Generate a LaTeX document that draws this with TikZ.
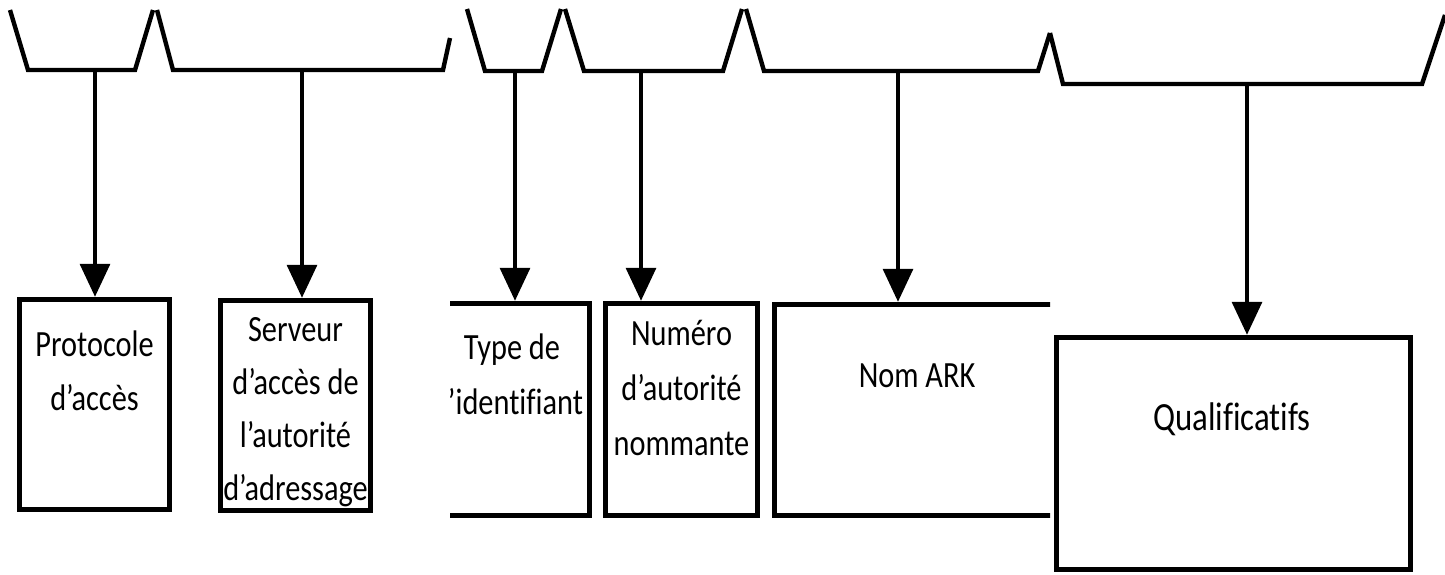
\documentclass[tikz,border=0pt]{standalone}
\usepackage{fontspec}
\setmainfont{Carlito}[FakeStretch=0.82, Ligatures=NoCommon]
\usetikzlibrary{positioning,arrows.meta}
\begin{document}
\begin{tikzpicture}[x=0.5pt, y=-0.5pt,
  field/.style = {draw, rectangle, line width=2.75pt, inner sep=0pt},
  lbl/.style = {align=center, inner sep=0pt, anchor=north, font=\fontsize{18.5pt}{27pt}\selectfont},
  brace/.style = {line width=2.2pt, line join=miter},
  link/.style = {line width=1.7pt, -{Triangle[width=15pt,length=16.5pt]}}]
\useasboundingbox (0,0) rectangle (1445,574);
% left part
\draw[brace] (10,10) -- (28,70) -- (135,70) -- (153,10);
\draw[brace] (157,10) -- (173,70) -- (443,70) -- (450,38);
\coordinate (s1) at (95,70);
\coordinate (s2) at (302,70);
\node[field, minimum width=75pt, minimum height=105pt] (proto) at (94.5,404.5) {};
\node[field, minimum width=75pt, minimum height=105pt] (serveur) at (295.5,405.5) {};
\node[lbl] (t1) at (94.5,330) {Protocole\\d’accès};
\node[lbl, font=\fontsize{18.5pt}{26.5pt}\selectfont] (t2) at (295.5,317) {Serveur\\d’accès de\\l’autorité\\d’adressage};
\draw[link] (s1) -- (s1 |- proto.north);
\draw[link] (s2) -- (s2 |- serveur.north);
% middle part
\begin{scope}
\clip (450,0) rectangle (1050,574);
\draw[brace] (467,9) -- (485,71) -- (542,71) -- (561,9);
\draw[brace] (565,9) -- (584,71) -- (723,71) -- (742,9);
\draw[brace] (746,9) -- (764,71) -- (1038,71) -- (1050,33);
\coordinate (s3) at (515,71);
\coordinate (s4) at (641,71);
\coordinate (s5) at (898,71);
\node[field, minimum width=74.5pt, minimum height=106pt] (type) at (515,409.5) {};
\node[field, minimum width=76pt, minimum height=106pt] (numero) at (681.5,409.5) {};
\node[field, minimum width=142.5pt, minimum height=105.5pt] (nom) at (917,410) {};
\node[lbl, font=\fontsize{18.5pt}{27.5pt}\selectfont] (t3) at (512,333) {Type de\\l’identifiant};
\node[lbl, font=\fontsize{18.5pt}{27.5pt}\selectfont] (t4) at (681.5,320) {Numéro\\d’autorité\\nommante};
\node[lbl] (t5) at (917,363) {Nom ARK};
\draw[link] (s3) -- (s3 |- type.north);
\draw[link] (s4) -- (s4 |- numero.north);
\draw[link] (s5) -- (s5 |- nom.north);
\end{scope}
% right part
\draw[brace] (1050,33) -- (1063,84) -- (1422,84) -- (1445,15);
\coordinate (s6) at (1247,84);
\node[field, minimum width=177pt, minimum height=116pt] (qualif) at (1233.5,453.5) {};
\node[lbl, font=\fontsize{20pt}{27pt}\selectfont] (t6) at (1232,402) {Qualificatifs};
\draw[link] (s6) -- (s6 |- qualif.north);
\end{tikzpicture}
\end{document}
